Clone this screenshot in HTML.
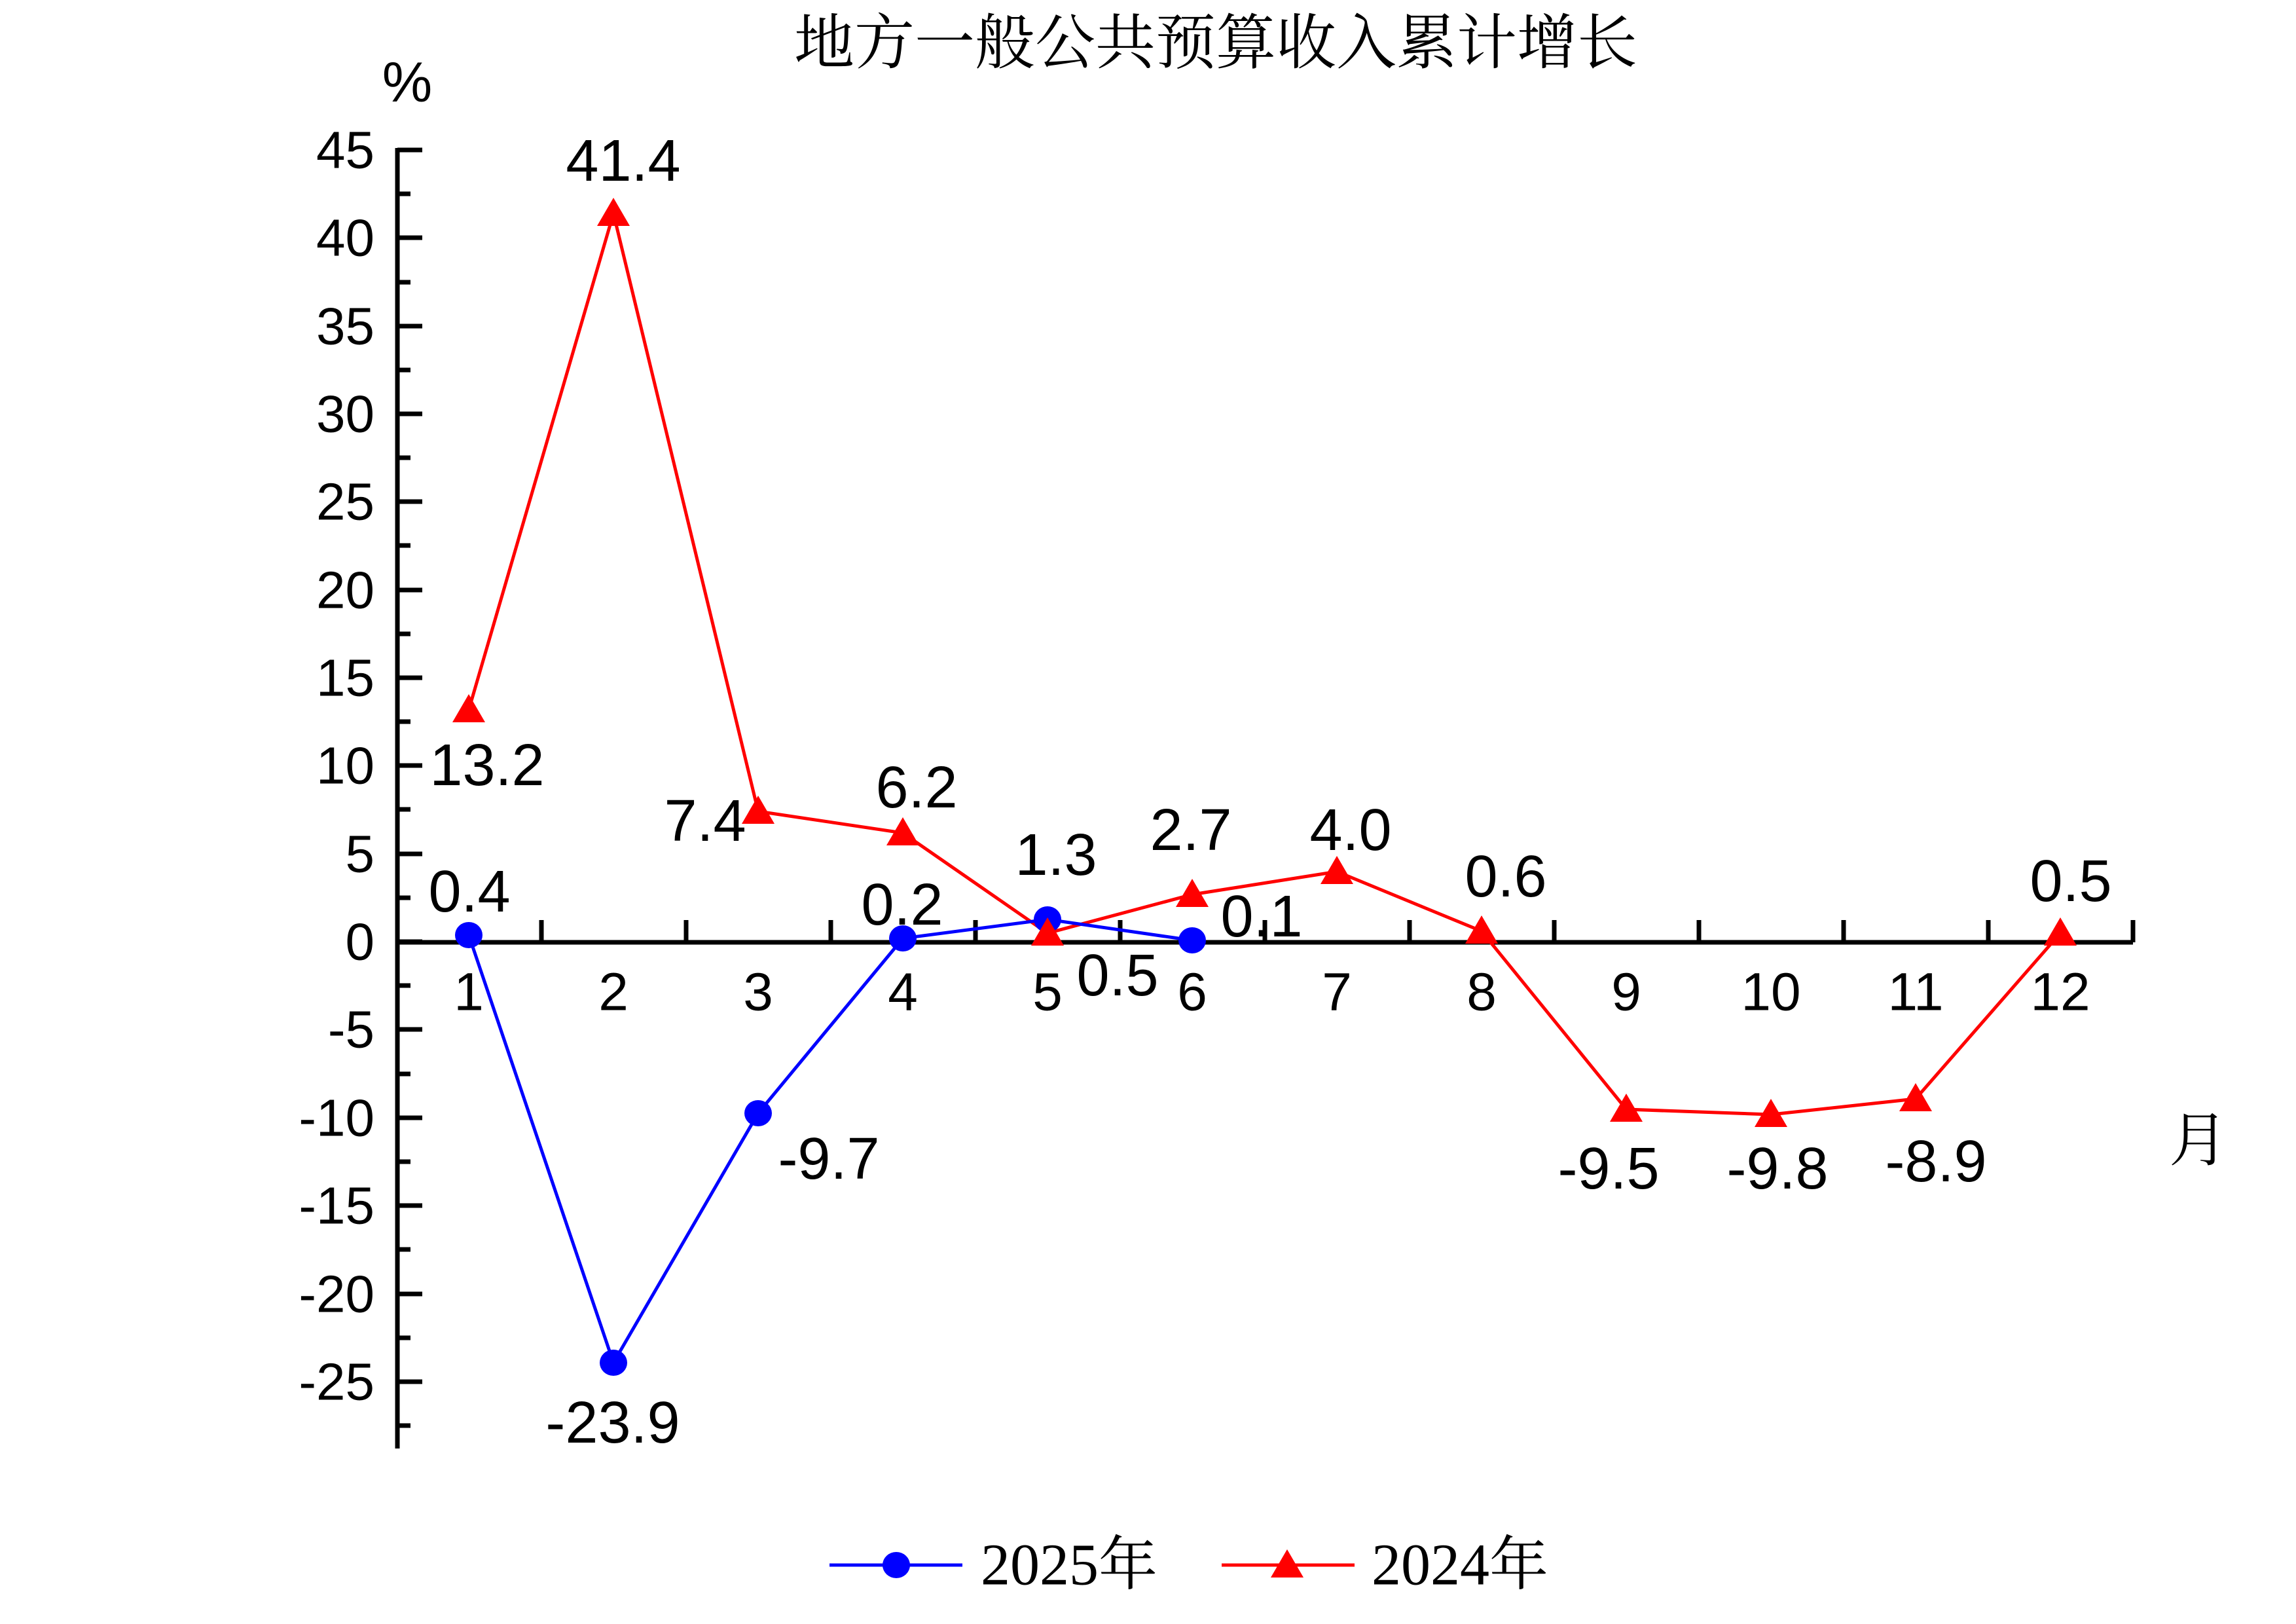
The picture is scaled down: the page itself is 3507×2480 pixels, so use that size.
<!DOCTYPE html>
<html><head><meta charset="utf-8"><style>html,body{margin:0;padding:0;background:#fff}svg{display:block}</style></head>
<body>
<svg width="3507" height="2480" viewBox="0 0 3507 2480" xmlns="http://www.w3.org/2000/svg">
<rect width="3507" height="2480" fill="#fff"/>
<text x="1857" y="58" font-family="Noto Serif CJK SC, serif" font-size="92" text-anchor="middle" dominant-baseline="central">地方一般公共预算收入累计增长</text>
<text x="622" y="126" font-family="Liberation Sans, sans-serif" font-size="86" text-anchor="middle" dominant-baseline="central">%</text>
<text x="3358" y="1733" font-family="Noto Serif CJK SC, serif" font-size="90" text-anchor="middle" dominant-baseline="central">月</text>
<g stroke="#000" stroke-width="7" fill="none">
<line x1="607" y1="226" x2="607" y2="2212"/>
<line x1="607" y1="1439" x2="3258" y2="1439"/>
<path d="M607 229h38M607 296h20M607 363h38M607 431h20M607 498h38M607 565h20M607 632h38M607 699h20M607 766h38M607 833h20M607 901h38M607 968h20M607 1035h38M607 1102h20M607 1169h38M607 1236h20M607 1304h38M607 1371h20M607 1438h38M607 1505h20M607 1572h38M607 1640h20M607 1707h38M607 1774h20M607 1841h38M607 1908h20M607 1976h38M607 2043h20M607 2110h38M607 2177h20"/>
<path d="M827 1439v-34M1048 1439v-34M1269 1439v-34M1490 1439v-34M1711 1439v-34M1932 1439v-34M2153 1439v-34M2374 1439v-34M2595 1439v-34M2816 1439v-34M3037 1439v-34M3258 1439v-34"/>
</g>
<g font-family="Liberation Sans, sans-serif" font-size="80" text-anchor="end" dominant-baseline="central">
<text x="572" y="229">45</text><text x="572" y="363">40</text><text x="572" y="498">35</text><text x="572" y="632">30</text><text x="572" y="766">25</text><text x="572" y="901">20</text><text x="572" y="1035">15</text><text x="572" y="1169">10</text><text x="572" y="1304">5</text><text x="572" y="1438">0</text><text x="572" y="1572">-5</text><text x="572" y="1707">-10</text><text x="572" y="1841">-15</text><text x="572" y="1976">-20</text><text x="572" y="2110">-25</text>
</g>
<g font-family="Liberation Sans, sans-serif" font-size="82" text-anchor="middle" dominant-baseline="central">
<text x="716" y="1515">1</text><text x="937" y="1515">2</text><text x="1158" y="1515">3</text><text x="1379" y="1515">4</text><text x="1600" y="1515">5</text><text x="1821" y="1515">6</text><text x="2042" y="1515">7</text><text x="2263" y="1515">8</text><text x="2484" y="1515">9</text><text x="2705" y="1515">10</text><text x="2926" y="1515">11</text><text x="3147" y="1515">12</text>
</g>
<polyline fill="none" stroke="#ff0000" stroke-width="5" points="716,1084 937,326 1158,1239 1379,1272 1600,1425 1821,1366 2042,1331 2263,1422 2484,1694 2705,1702 2926,1678 3147,1425"/>
<polyline fill="none" stroke="#0000ff" stroke-width="5" points="716,1428 937,2081 1158,1700 1379,1433 1600,1404 1821,1436"/>
<g fill="#0000ff">
<ellipse cx="716" cy="1428" rx="21" ry="20"/><ellipse cx="937" cy="2081" rx="21" ry="20"/><ellipse cx="1158" cy="1700" rx="21" ry="20"/><ellipse cx="1379" cy="1433" rx="21" ry="20"/><ellipse cx="1600" cy="1404" rx="21" ry="20"/><ellipse cx="1821" cy="1436" rx="21" ry="20"/>
</g>
<g fill="#ff0000">
<path d="M716,1060 l25,43 h-50z"/><path d="M937,302 l25,43 h-50z"/><path d="M1158,1215 l25,43 h-50z"/><path d="M1379,1248 l25,43 h-50z"/><path d="M1600,1401 l25,43 h-50z"/><path d="M1821,1342 l25,43 h-50z"/><path d="M2042,1307 l25,43 h-50z"/><path d="M2263,1398 l25,43 h-50z"/><path d="M2484,1670 l25,43 h-50z"/><path d="M2705,1678 l25,43 h-50z"/><path d="M2926,1654 l25,43 h-50z"/><path d="M3147,1401 l25,43 h-50z"/>
</g>
<g font-family="Liberation Sans, sans-serif" font-size="90" text-anchor="middle" dominant-baseline="central">
<text x="717" y="1362">0.4</text><text x="936" y="2173">-23.9</text><text x="1266" y="1770">-9.7</text><text x="1378" y="1382">0.2</text><text x="1613" y="1306">1.3</text><text x="1927" y="1400">0.1</text>
<text x="744" y="1169">13.2</text><text x="952" y="246">41.4</text><text x="1077" y="1254">7.4</text><text x="1400" y="1203">6.2</text><text x="1707" y="1490">0.5</text><text x="1819" y="1268">2.7</text><text x="2063" y="1268">4.0</text><text x="2300" y="1339">0.6</text><text x="2457" y="1785">-9.5</text><text x="2715" y="1785">-9.8</text><text x="2957" y="1774">-8.9</text><text x="3163" y="1346">0.5</text>
</g>
<line x1="1267" y1="2390" x2="1470" y2="2390" stroke="#0000ff" stroke-width="5"/>
<ellipse cx="1369" cy="2390" rx="21" ry="20" fill="#0000ff"/>
<text x="1498" y="2390" font-family="Liberation Serif, Noto Serif CJK SC, serif" font-size="90" dominant-baseline="central">2025年</text>
<line x1="1866" y1="2390" x2="2069" y2="2390" stroke="#ff0000" stroke-width="5"/>
<path d="M1966,2366 l25,43 h-50z" fill="#ff0000"/>
<text x="2095" y="2390" font-family="Liberation Serif, Noto Serif CJK SC, serif" font-size="90" dominant-baseline="central">2024年</text>
</svg>
</body></html>
